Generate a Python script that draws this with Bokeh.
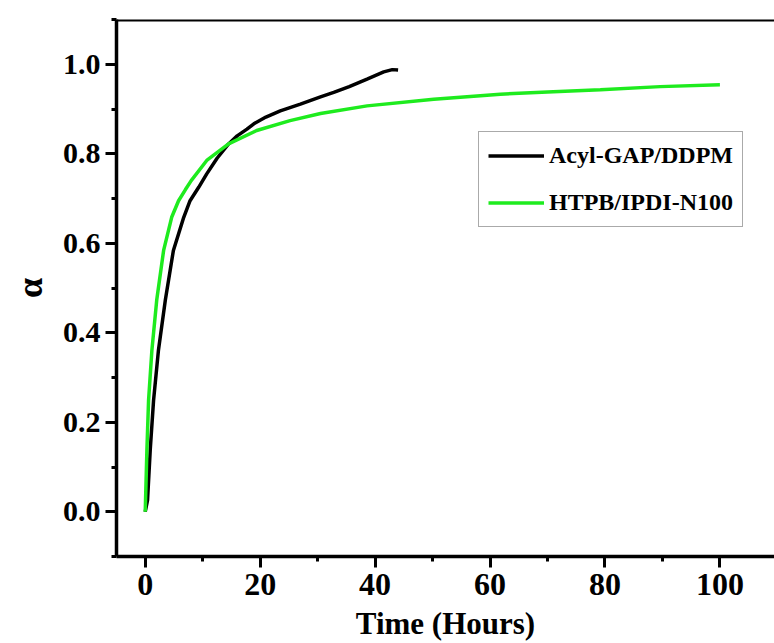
from bokeh.plotting import figure
from bokeh.models import Range1d, SingleIntervalTicker, PrintfTickFormatter, Legend, LegendItem, Span
from bokeh.embed import file_html
from bokeh.resources import INLINE

# Acyl-GAP/DDPM
t_gap = [0, 0.4, 0.87, 1.45, 2.3, 3.5, 4.9, 6.7, 7.8, 9.3, 10.7, 12.5, 14.5, 16.0, 17.7, 18.9, 21.0, 23.5, 27.0, 30.5, 32.8, 35.5, 38.6, 41.5, 43.0, 44.0]
a_gap = [0, 0.026, 0.138, 0.249, 0.361, 0.473, 0.584, 0.658, 0.695, 0.725, 0.755, 0.790, 0.822, 0.840, 0.855, 0.867, 0.882, 0.896, 0.911, 0.927, 0.937, 0.950, 0.967, 0.983, 0.988, 0.987]

# HTPB/IPDI-N100
t_htpb = [0, 0.29, 0.58, 1.16, 2.0, 3.2, 4.6, 5.8, 7.0, 8.0, 10.7, 14.5, 19.4, 25.2, 30.5, 38.6, 50.2, 61.8, 70.0, 79.2, 89.6, 100.0]
a_htpb = [0, 0.138, 0.249, 0.361, 0.473, 0.584, 0.658, 0.695, 0.720, 0.740, 0.785, 0.822, 0.852, 0.874, 0.890, 0.907, 0.922, 0.933, 0.938, 0.943, 0.950, 0.954]

x_label = "Time (Hours)"
y_label = "α"
series_names = ["Acyl-GAP/DDPM", "HTPB/IPDI-N100"]

FONT = "Liberation Serif"

p = figure(width=774, height=643, output_backend="svg", toolbar_location=None,
           x_range=Range1d(-5, 109.5), y_range=Range1d(-0.1, 1.1),
           min_border_left=116, min_border_right=0, min_border_top=19, min_border_bottom=87)
p.outline_line_color = None
p.grid.visible = False
p.background_fill_color = "white"
p.border_fill_color = "white"

r1 = p.line(t_gap, a_gap, line_color="black", line_width=3.5)
r2 = p.line(t_htpb, a_htpb, line_color="#1EEB1E", line_width=3.5)

xa = p.xaxis[0]
xa.ticker = SingleIntervalTicker(interval=20, num_minor_ticks=2)
ya = p.yaxis[0]
ya.ticker = SingleIntervalTicker(interval=0.2, num_minor_ticks=2)
ya.formatter = PrintfTickFormatter(format="%.1f")

for ax in (xa, ya):
    ax.axis_line_width = 3.5
    ax.axis_line_color = "black"
    ax.major_tick_line_width = 3
    ax.minor_tick_line_width = 3
    ax.major_tick_in = 0
    ax.major_tick_out = 11
    ax.minor_tick_in = 0
    ax.minor_tick_out = 5
    ax.major_label_text_font = FONT
    ax.major_label_text_font_style = "bold"
    ax.major_label_text_color = "black"
    ax.axis_label_text_font = FONT
    ax.axis_label_text_font_style = "bold"
    ax.axis_label_text_color = "black"

xa.major_label_text_font_size = "32px"
ya.major_label_text_font_size = "30px"
xa.axis_label = x_label
xa.axis_label_text_font_size = "31px"
xa.major_label_standoff = 6
xa.axis_label_standoff = 8
ya.axis_label = y_label
ya.axis_label_text_font_size = "36px"
ya.major_label_standoff = 5
ya.axis_label_standoff = 10

top = Span(location=1.1, dimension="width", line_color="black", line_width=4)
p.add_layout(top)

legend = Legend(items=[LegendItem(label=series_names[0], renderers=[r1]),
                       LegendItem(label=series_names[1], renderers=[r2])],
                location=(362, 329))
legend.label_text_font = FONT
legend.label_text_font_style = "bold"
legend.label_text_font_size = "24px"
legend.label_text_color = "black"
legend.glyph_width = 56
legend.glyph_height = 29
legend.label_height = 29
legend.label_standoff = 5
legend.spacing = 18
legend.padding = 9
legend.margin = 0
legend.border_line_color = "#555555"
legend.border_line_width = 1.5
legend.background_fill_alpha = 1
p.add_layout(legend)

open("out.html", "w").write(file_html(p, INLINE))
